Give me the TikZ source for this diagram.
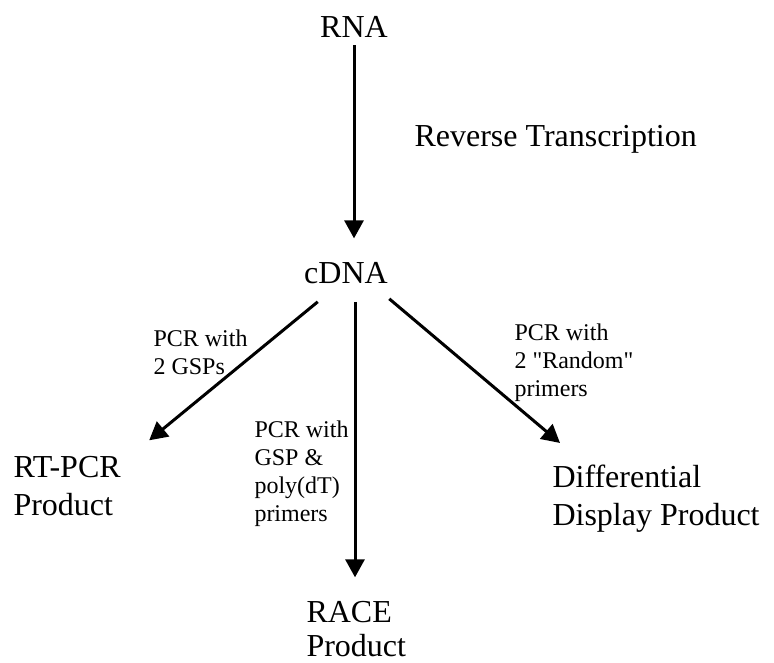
\documentclass[tikz,border=0pt]{standalone}
\usepackage{fontspec}
\setmainfont{Liberation Serif}
\newfontfamily\labfont{Liberation Serif}
\usetikzlibrary{arrows.meta,calc}
\usetikzlibrary{positioning}

\begin{document}
\begin{tikzpicture}[x=0.5pt,y=-0.5pt,->,>={Triangle[length=9pt,width=9.5pt]},line width=1.5pt]
  \tikzstyle{big}=[inner sep=0pt,font=\fontsize{16}{19}\selectfont,align=left]
  \tikzstyle{small}=[inner sep=0pt,font=\labfont\fontsize{12}{14}\selectfont,align=left]
  \useasboundingbox (0,0) rectangle (774,662);
  \node[big]   (rna)   at (354,38)  [anchor=base]      {RNA};
  \node[big]   (rt)    at (413,147) [anchor=base west] {Reverse Transcription};
  \node[big]   (cdna)  at (346,283) [anchor=base]      {cDNA};
  \node[big]   (rtpcr) at (12,515)  [anchor=base west] {RT-PCR\\Product};
  \node[big]   (race)  at (305,656) [anchor=base west,font=\fontsize{16}{17}\selectfont] {RACE\\Product};
  \node[big]   (dd)    at (551,525) [anchor=base west] {Differential\\Display Product};
  \node[small] (lab1)  at (152,374) [anchor=base west] {PCR with\\2 GSPs};
  \node[small] (lab2)  at (253,521) [anchor=base west] {PCR with\\GSP \&\\poly(dT)\\primers};
  \node[small] (lab3)  at (513,396) [anchor=base west] {PCR with\\2 "Random"\\primers};
  \coordinate (mid) at ($(cdna.south)+(9,17)$);
  \draw[shorten <=3pt,shorten >=11pt] (rna.south) -- (rna.south |- cdna.north);
  \draw ($(cdna.south west)+(15,17)$) -- ($(rtpcr.north east)+(27,-14)$);
  \draw[shorten >=11pt] (mid) -- (mid |- race.north);
  \draw ($(cdna.south east)+(0,14)$) -- ($(dd.north west)+(9,-20)$);
\end{tikzpicture}
\end{document}
